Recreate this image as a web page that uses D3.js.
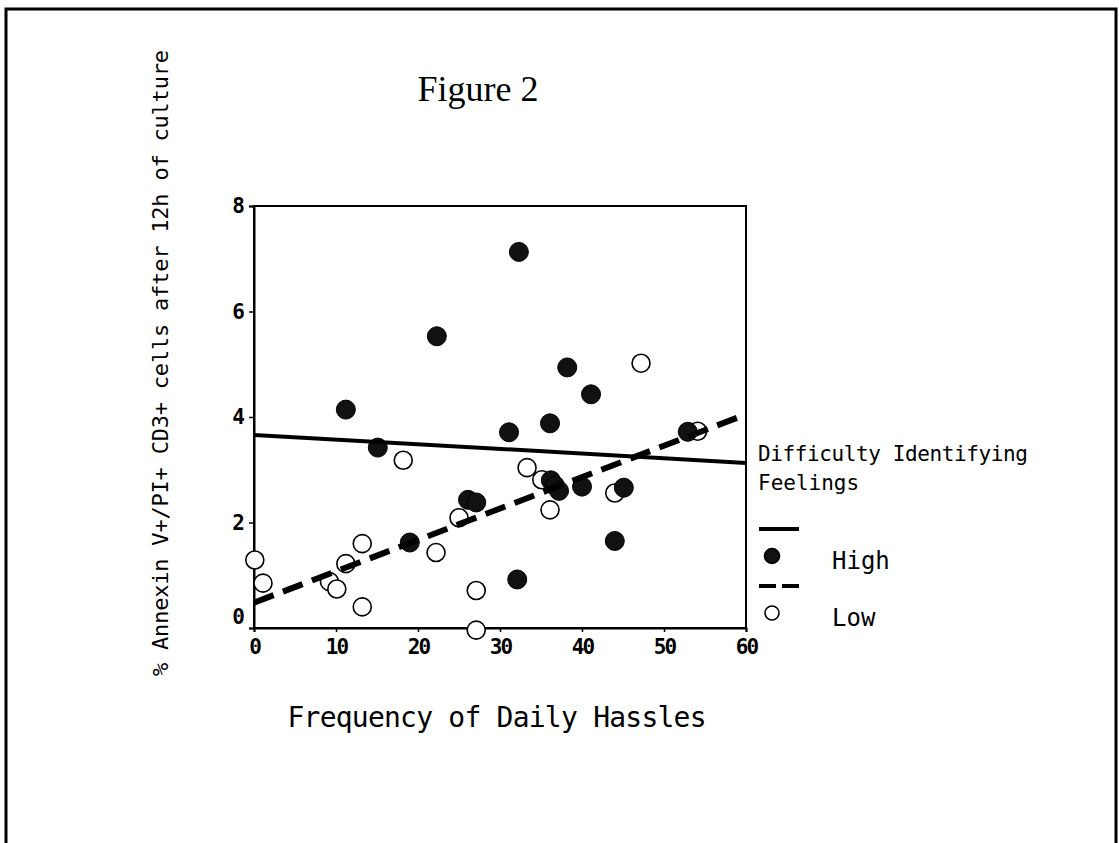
<!DOCTYPE html>
<html>
<head>
<meta charset="utf-8">
<script src="https://cdn.jsdelivr.net/npm/d3@7"></script>
<style>
    body { margin: 0; background: #fff; }
    svg { display: block; }
    .mono { font-family: "DejaVu Sans Mono", "Liberation Mono", monospace; fill: #000; }
</style>
</head>
<body>
<div id="chart"></div>
<script>
// values
const highX = [11.2, 15.1, 22.3, 32.3, 38.2, 41.1, 31.1, 36.1, 26.1, 27.1, 19.0, 32.1, 44.0, 40.0, 45.1, 36.2, 36.7, 37.2, 52.9];
const highY = [4.14, 3.42, 5.53, 7.13, 4.94, 4.43, 3.71, 3.88, 2.43, 2.38, 1.62, 0.92, 1.65, 2.68, 2.66, 2.80, 2.70, 2.60, 3.72];
const lowX = [0.1, 1.1, 9.2, 10.1, 11.2, 13.2, 13.2, 18.2, 22.2, 25.0, 27.1, 27.1, 33.3, 35.1, 36.1, 44.0, 47.2, 54.1];
const lowY = [1.29, 0.85, 0.88, 0.74, 1.22, 1.60, 0.40, 3.18, 1.43, 2.09, 0.71, -0.04, 3.04, 2.81, 2.24, 2.56, 5.02, 3.73];
// regression lines, [x, y] at both ends
const highFit = [[0, 3.66], [60, 3.13]];
const lowFit = [[0, 0.48], [60, 4.05]];
const xTicks = [0, 10, 20, 30, 40, 50, 60];
const yTicks = [0, 2, 4, 6, 8];
const groups = ["High", "Low"];

var W = 1119, H = 843;
var svg = d3.select("#chart").append("svg").attr("width", W).attr("height", H);

// outer page frame (bottom edge runs off the picture)
svg.append("rect")
    .attr("x", 6).attr("y", 9)
    .attr("width", 1110).attr("height", 900)
    .attr("fill", "none").attr("stroke", "#000").attr("stroke-width", 3);

svg.append("text")
    .attr("x", 478).attr("y", 101)
    .attr("text-anchor", "middle")
    .style("font-family", "'Liberation Serif', 'DejaVu Serif', serif")
    .style("font-size", "36px")
    .text("Figure 2");

var x = d3.scaleLinear().domain([0, 60]).range([254, 746]);
var y = d3.scaleLinear().domain([0, 8]).range([628, 206]);

// box around the plot
svg.append("rect")
    .attr("x", x(0)).attr("y", y(8))
    .attr("width", x(60) - x(0)).attr("height", y(0) - y(8))
    .attr("fill", "none").attr("stroke", "#000").attr("stroke-width", 2);

var xAxis = svg.append("g")
    .attr("transform", "translate(0," + y(0) + ")")
    .call(d3.axisBottom(x).tickValues(xTicks).tickSize(4).tickPadding(4));
var yAxis = svg.append("g")
    .attr("transform", "translate(" + x(0) + ",0)")
    .call(d3.axisLeft(y).tickValues(yTicks).tickSize(5).tickPadding(6));

[xAxis, yAxis].forEach(function (g) {
    g.select(".domain").attr("stroke-width", 2);
    g.selectAll(".tick line").attr("stroke-width", 1.5);
    g.selectAll("text")
        .attr("class", "mono")
        .style("font-size", "21px")
        .style("font-weight", "bold")
        .style("letter-spacing", "-2px");
});
xAxis.selectAll("text").attr("dy", "0.85em");
// the 0 on the y axis sits a bit higher than its tick
yAxis.selectAll(".tick text").filter(function (d) { return d === 0; }).attr("y", -11);

// axis titles
svg.append("text")
    .attr("class", "mono")
    .attr("x", 497).attr("y", 727)
    .attr("text-anchor", "middle")
    .attr("textLength", 419)
    .style("font-size", "28px")
    .text("Frequency of Daily Hassles");

svg.append("text")
    .attr("class", "mono")
    .attr("transform", "translate(168,363) rotate(-90)")
    .attr("text-anchor", "middle")
    .attr("textLength", 626)
    .style("font-size", "22px")
    .text("% Annexin V+/PI+ CD3+ cells after 12h of culture");

// points: open circles first, filled ones on top
var lowPts = lowX.map(function (d, i) { return [d, lowY[i]]; });
var highPts = highX.map(function (d, i) { return [d, highY[i]]; });

svg.append("g").selectAll("circle").data(lowPts).enter()
    .append("circle")
    .attr("cx", function (d) { return x(d[0]); })
    .attr("cy", function (d) { return y(d[1]); })
    .attr("r", 9)
    .attr("fill", "#fff").attr("stroke", "#000").attr("stroke-width", 1.6);

svg.append("g").selectAll("circle").data(highPts).enter()
    .append("circle")
    .attr("cx", function (d) { return x(d[0]); })
    .attr("cy", function (d) { return y(d[1]); })
    .attr("r", 9.5)
    .attr("fill", "#111").attr("stroke", "#000").attr("stroke-width", 1);

// fit lines
var line = d3.line().x(function (d) { return x(d[0]); }).y(function (d) { return y(d[1]); });
svg.append("path").attr("d", line(highFit))
    .attr("fill", "none").attr("stroke", "#000").attr("stroke-width", 4);
svg.append("path").attr("d", line(lowFit))
    .attr("fill", "none").attr("stroke", "#000").attr("stroke-width", 6)
    .attr("stroke-dasharray", "21,10");

// legend
var lg = svg.append("g");
lg.append("text").attr("class", "mono")
    .attr("x", 758).attr("y", 461)
    .attr("textLength", 270)
    .style("font-size", "21px")
    .text("Difficulty Identifying");
lg.append("text").attr("class", "mono")
    .attr("x", 758).attr("y", 490)
    .style("font-size", "21px")
    .text("Feelings");

groups.forEach(function (name, i) {
    var top = 529 + i * 57;
    lg.append("line")
        .attr("x1", 759).attr("x2", 799)
        .attr("y1", top).attr("y2", top)
        .attr("stroke", "#000").attr("stroke-width", 4)
        .attr("stroke-dasharray", i === 0 ? null : "17,6");
    lg.append("circle")
        .attr("cx", 772).attr("cy", top + 27)
        .attr("r", i === 0 ? 7.5 : 7)
        .attr("fill", i === 0 ? "#111" : "#fff")
        .attr("stroke", "#000").attr("stroke-width", 1.6);
    lg.append("text").attr("class", "mono")
        .attr("x", 832).attr("y", top + 40)
        .style("font-size", "24px")
        .text(name);
});
</script>
</body>
</html>
